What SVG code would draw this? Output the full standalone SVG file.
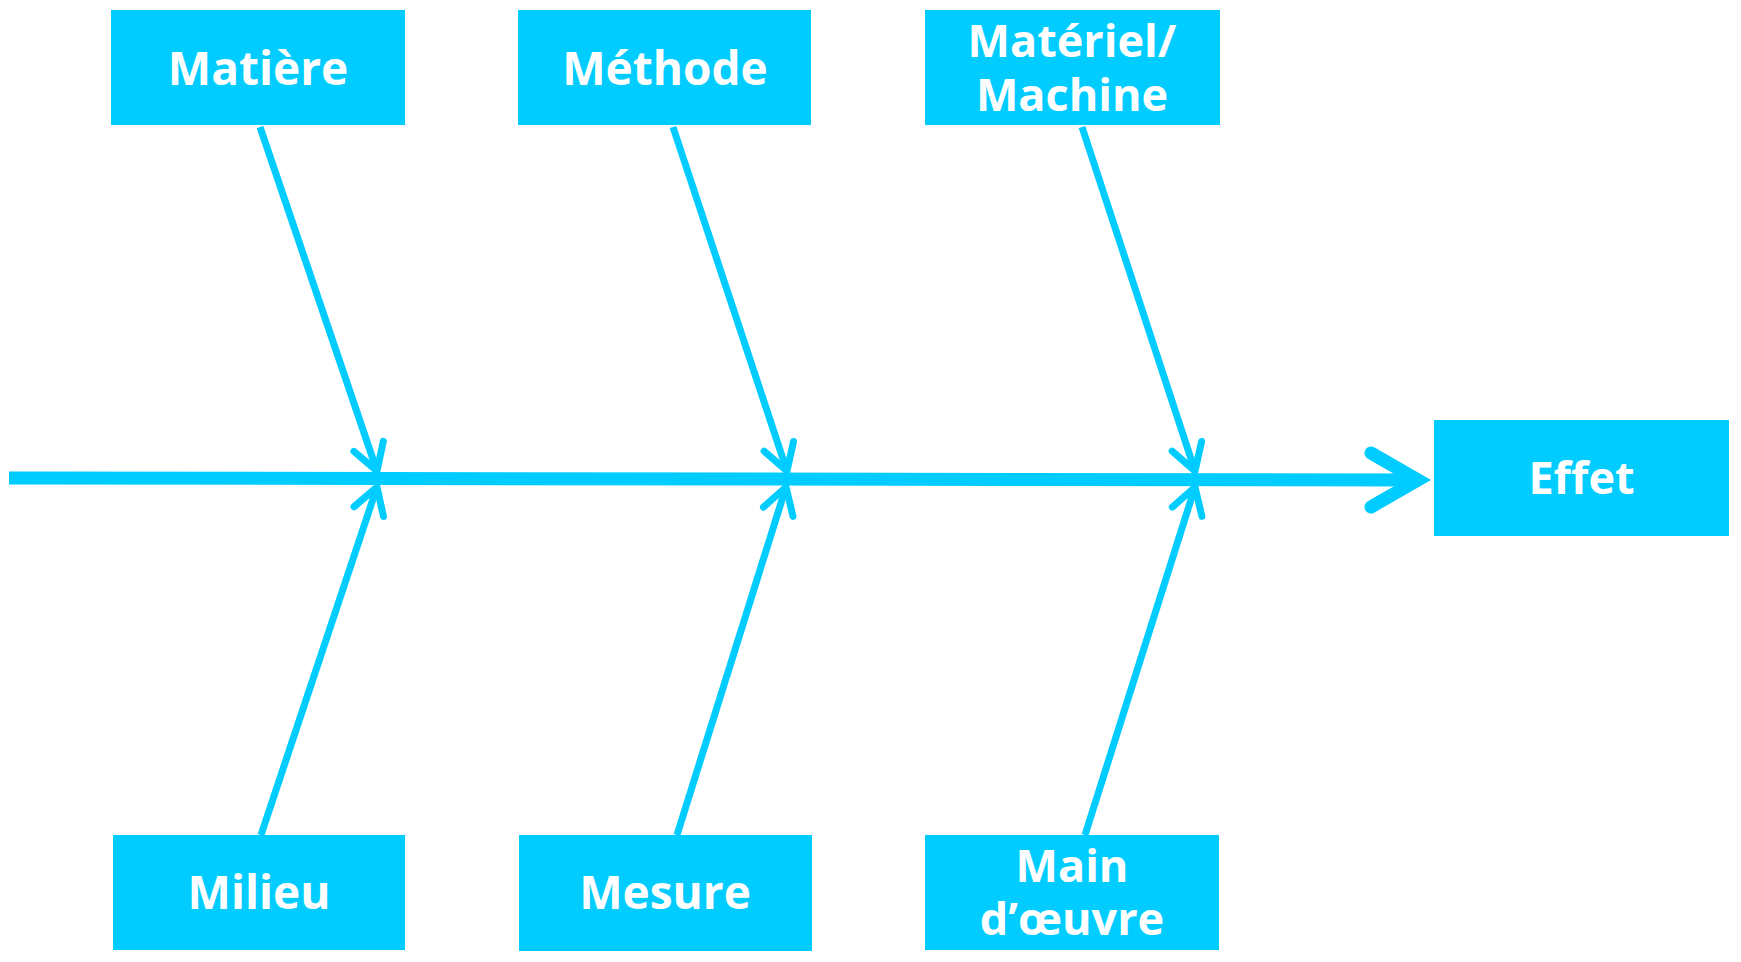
<svg xmlns="http://www.w3.org/2000/svg" width="1741" height="962" viewBox="0 0 1741 962">
<style>
.box{fill:#00CCFF}
.lbl{font-family:"Open Sans","Liberation Sans",sans-serif;font-weight:700;font-size:46px;fill:#FFFFFF;text-anchor:middle}
.lbl2{font-size:45px}
.branch{stroke:#00CCFF;stroke-width:7;fill:none;stroke-linecap:butt}
.spine{stroke:#00CCFF;stroke-width:13;fill:none}
</style>
<defs>
<marker id="ah" markerUnits="userSpaceOnUse" viewBox="-40 -30 50 60" markerWidth="50" markerHeight="60" refX="0" refY="0" orient="auto" overflow="visible">
<path d="M-26,-15.5 L0,0 L-26,15.5" fill="none" stroke="#00CCFF" stroke-width="7" stroke-linecap="round" stroke-linejoin="round"/>
</marker>
</defs>
<rect width="1741" height="962" fill="#FFFFFF"/>
<g id="connectors">
<path class="spine" d="M9,478 L1420,480"/>
<path class="spine" d="M1371,453 L1418,480 L1371,507" stroke-linecap="round" stroke-linejoin="miter" stroke-miterlimit="10"/>
<line class="branch" x1="260" y1="127" x2="377" y2="471" marker-end="url(#ah)"/>
<line class="branch" x1="673" y1="127" x2="787" y2="471" marker-end="url(#ah)"/>
<line class="branch" x1="1082" y1="127" x2="1195" y2="471" marker-end="url(#ah)"/>
<line class="branch" x1="261" y1="835" x2="377" y2="487" marker-end="url(#ah)"/>
<line class="branch" x1="677" y1="835" x2="786" y2="487" marker-end="url(#ah)"/>
<line class="branch" x1="1085" y1="835" x2="1195" y2="487" marker-end="url(#ah)"/>
</g>
<g id="matiere">
<rect class="box" x="111" y="10" width="294" height="115"/>
<text class="lbl" x="258" y="84.5">Matière</text>
</g>
<g id="methode">
<rect class="box" x="518" y="10" width="293" height="115"/>
<text class="lbl" x="665" y="84.5">Méthode</text>
</g>
<g id="materiel">
<rect class="box" x="925" y="10" width="295" height="115"/>
<text class="lbl lbl2" x="1072" y="57"><tspan x="1072" y="57">Matériel/</tspan><tspan x="1072" y="111">Machine</tspan></text>
</g>
<g id="milieu">
<rect class="box" x="113" y="835" width="292" height="115"/>
<text class="lbl" x="259" y="909">Milieu</text>
</g>
<g id="mesure">
<rect class="box" x="519" y="835" width="293" height="116"/>
<text class="lbl" x="665" y="909">Mesure</text>
</g>
<g id="main-oeuvre">
<rect class="box" x="925" y="835" width="294" height="115"/>
<text class="lbl lbl2" x="1072" y="882"><tspan x="1072" y="882">Main</tspan><tspan x="1072" y="935">d’œuvre</tspan></text>
</g>
<g id="effet">
<rect class="box" x="1434" y="420" width="295" height="116"/>
<text class="lbl lbl2" x="1581.5" y="494">Effet</text>
</g>
</svg>
